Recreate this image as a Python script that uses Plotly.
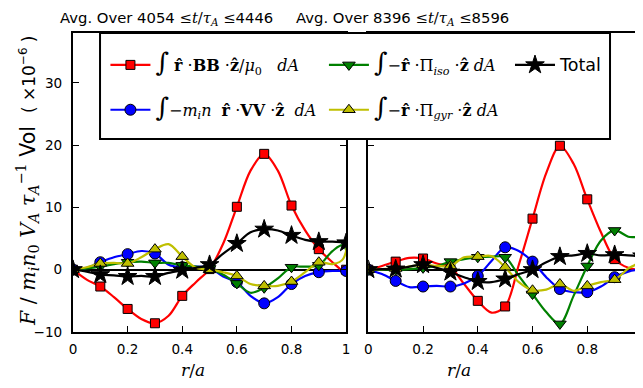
import numpy as np
import plotly.graph_objects as go
from plotly.subplots import make_subplots

# radial positions of the curves and of the markers
r_line = [0, 0.05, 0.1, 0.15, 0.2, 0.25, 0.3, 0.35, 0.4, 0.45, 0.5,
          0.55, 0.6, 0.65, 0.7, 0.75, 0.8, 0.85, 0.9, 0.95, 0.99, 1.0]
r_ticks = [0, 0.2, 0.4, 0.6, 0.8, 1.0]
r_tick_text = ["0", "0.2", "0.4", "0.6", "0.8", "1"]
y_ticks = [-10, 0, 10, 20, 30]

# left panel: 4054 <= t/tau_A <= 4446
left_BB = [0, -1.6, -2.7, -4.4, -6.3, -7.9, -8.6, -7.4, -4.2, -2.0, 0.1,
           4.2, 10.1, 15.9, 18.6, 15.9, 10.3, 6.3, 3.3, 1.2, -0.2, 0.0]
left_VV = [0, 0.3, 1.2, 2.0, 2.5, 3.0, 2.6, 0.8, 0.4, 0.5, 0.3,
           -1.1, -2.0, -4.2, -5.4, -4.4, -2.3, -1.0, -0.4, -0.2, -0.2, -0.2]
left_ISO = [0, 0.2, 0.5, 0.9, 1.2, 1.3, 1.1, 1.1, 0.7, 0.5, 0.2,
            -0.8, -2.2, -3.7, -2.9, -1.4, 0.4, 0.5, 0.7, 3.0, 3.9, -40.0]
left_GYR = [0, 0.4, 1.0, 1.1, 1.0, 2.0, 3.3, 4.1, 2.1, 0.3, 0.0,
            -0.4, -1.0, -2.3, -2.6, -2.6, -1.9, -0.4, 1.2, 0.9, 1.8, 80.0]
left_TOT = [0, -0.3, -0.8, -0.9, -1.1, -1.0, -1.1, -0.5, -0.1, 0.3, 0.8,
            2.6, 4.2, 6.0, 6.5, 6.3, 5.5, 4.8, 4.5, 4.5, 4.4, 4.3]

# right panel: 8396 <= t/tau_A <= 8596
right_BB = [0, 0.6, 1.3, 1.9, 1.8, 1.0, 0.4, -2.3, -5.0, -6.9, -5.9,
            0.8, 8.2, 15.5, 19.9, 17.0, 11.3, 6.0, 1.7, 0.3, 0.0, 0.0]
right_VV = [0, -0.7, -1.8, -2.8, -2.7, -2.6, -2.7, -2.2, -1.0, 1.4, 3.6,
            3.0, 1.3, -1.2, -3.1, -3.6, -3.6, -2.7, -1.2, -0.3, 0.0, 0.0]
right_ISO = [0, 0.0, 0.0, 0.1, 0.3, 0.6, 1.3, 1.7, 2.0, 2.1, 2.0,
             -1.0, -3.9, -6.8, -8.7, -4.2, 0.6, 4.7, 6.3, 5.3, 4.9, -40.0]
right_GYR = [0, 0.1, 0.2, 0.5, 0.8, 0.6, 0.6, 2.0, 2.1, 2.2, 0.4,
             -2.0, -3.3, -3.2, -2.3, -3.4, -2.6, -2.0, -1.6, 0.2, 1.5, 80.0]
right_TOT = [0, 0.1, 0.1, 0.5, 0.8, 0.3, -0.4, -1.2, -1.9, -2.0, -1.5,
             -0.7, 0.0, 1.2, 2.1, 2.3, 2.6, 2.3, 2.4, 2.3, 2.2, 2.2]

panel_titles = [
    'Avg. Over 4054 <span style="font-family:DejaVu Serif">≤<i>t</i>/<i>τ</i><sub><i>A</i></sub> ≤</span>4446',
    'Avg. Over 8396 <span style="font-family:DejaVu Serif">≤<i>t</i>/<i>τ</i><sub><i>A</i></sub> ≤</span>8596',
]

SER = "DejaVu Serif"
INT = '<span style="font-size:26px">∫</span>'
series_names = [
    INT + ' <b>r̂</b> ·<b>BB</b> ·<b>ẑ</b>/<i>μ</i><sub>0</sub>   <i>dA</i>',
    INT + '−<i>m</i><sub><i>i</i></sub><i>n</i>  <b>r̂</b> ·<b>VV</b> ·<b>ẑ</b>  <i>dA</i>',
    INT + '−<b>r̂</b> ·Π<sub><i>iso</i></sub> ·<b>ẑ</b> <i>dA</i>',
    INT + '−<b>r̂</b> ·Π<sub><i>gyr</i></sub> ·<b>ẑ</b> <i>dA</i>',
    '<span style="font-family:DejaVu Sans;font-size:17.5px">Total</span>',
]
colors = ["#ff0000", "#0000ff", "#008000", "#bfbf00", "#000000"]
symbols = ["square", "circle", "triangle-down", "triangle-up", "star"]
msizes = [9, 11, 11, 11, 14]

left_data = [left_BB, left_VV, left_ISO, left_GYR, left_TOT]
right_data = [right_BB, right_VV, right_ISO, right_GYR, right_TOT]

r_arr = np.array(r_line)
mask = np.isclose(r_arr * 10, np.round(r_arr * 10))

fig = make_subplots(rows=1, cols=2, shared_yaxes=True, horizontal_spacing=0.04)

for col, dataset in ((1, left_data), (2, right_data)):
    for i, vals in enumerate(dataset):
        v = np.array(vals)
        fig.add_trace(go.Scatter(
            x=r_arr, y=v, mode="lines", showlegend=False, hoverinfo="skip",
            line=dict(color=colors[i], width=2.2, shape="spline", smoothing=0.9)),
            row=1, col=col)
        fig.add_trace(go.Scatter(
            x=r_arr[mask], y=v[mask], mode="markers", showlegend=False,
            marker=dict(color=colors[i], symbol=symbols[i], size=msizes[i],
                        line=dict(color="black", width=1))),
            row=1, col=col)

# legend entries (line + marker), each placed in its own legend slot
legend_pos = [(0.057, 0.893), (0.057, 0.743), (0.441, 0.893), (0.441, 0.743), (0.768, 0.893)]
for i in range(5):
    lname = "legend" if i == 0 else f"legend{i+1}"
    fig.add_trace(go.Scatter(
        x=[None], y=[None], mode="lines+markers", name=series_names[i],
        legend=lname, showlegend=True,
        line=dict(color=colors[i], width=2.2),
        marker=dict(color=colors[i], symbol=symbols[i], size=msizes[i],
                    line=dict(color="black", width=1))), row=1, col=1)

axis_common = dict(showline=True, linewidth=2, linecolor="black", mirror="ticks",
                   ticks="inside", ticklen=6, tickwidth=1, tickcolor="black",
                   showgrid=False, zeroline=False, automargin=False,
                   tickfont=dict(family="DejaVu Sans", size=13.6, color="black"))

fig.update_xaxes(range=[0, 1], tickvals=r_ticks, ticktext=r_tick_text,
                 ticklabelstandoff=4, **axis_common)
fig.update_yaxes(range=[-10, 38], tickvals=y_ticks, ticklabelstandoff=6, **axis_common)
fig.update_yaxes(zeroline=True, zerolinecolor="black", zerolinewidth=2)
fig.update_yaxes(showticklabels=False, row=1, col=2)

# the page adds an 8 px body margin, so the figure is 8 px smaller than the window
fig.update_layout(
    width=635, height=380,
    margin=dict(l=65, r=1, t=25, b=56, autoexpand=False),
    paper_bgcolor="white", plot_bgcolor="white",
    font=dict(family=SER, size=15, color="black"),
)
fig.layout.xaxis.domain = [0, 0.48]
fig.layout.xaxis2.domain = [0.519, 1]

for i in range(5):
    lname = "legend" if i == 0 else f"legend{i+1}"
    fig.layout[lname] = dict(x=legend_pos[i][0], y=legend_pos[i][1],
                             xanchor="left", yanchor="middle",
                             bgcolor="rgba(0,0,0,0)", borderwidth=0,
                             itemwidth=40,
                             font=dict(family=SER, size=16, color="black"))

# legend frame
fig.add_shape(type="rect", xref="paper", yref="paper",
              x0=0.0475, x1=0.9438, y0=0.6455, y1=1.0,
              line=dict(color="black", width=2), fillcolor="white", layer="above")

annots = [
    dict(text=panel_titles[0], x=0.165, y=1.050),
    dict(text=panel_titles[1], x=0.579, y=1.050),
]
for a in annots:
    fig.add_annotation(xref="paper", yref="paper", showarrow=False,
                       xanchor="center", yanchor="middle", borderpad=0,
                       font=dict(family="DejaVu Sans", size=14.8, color="black"), **a)

for xc in (0.211, 0.678):
    fig.add_annotation(xref="paper", yref="paper", x=xc, y=-0.127, showarrow=False,
                       text="<i>r</i>/<i>a</i>", xanchor="center", yanchor="middle",
                       font=dict(family=SER, size=17, color="black"))

ytitle = ('<span style="font-family:DejaVu Serif;font-size:20.5px"><i>F</i> / <i>m</i><sub><i>i</i></sub>'
          '<i>n</i><sub>0</sub> <i>V</i><sub><i>A</i></sub> <i>τ</i><sub><i>A</i></sub>'
          '<sup>−1</sup></span> Vol  <span style="font-size:17px">( ×10<sup>−6</sup> )</span>')
fig.add_annotation(xref="paper", yref="paper", x=-0.081, y=0.505, showarrow=False,
                   text=ytitle, textangle=-90, xanchor="center", yanchor="middle",
                   font=dict(family="DejaVu Sans", size=20.5, color="black"))

fig.write_html("out.html")
